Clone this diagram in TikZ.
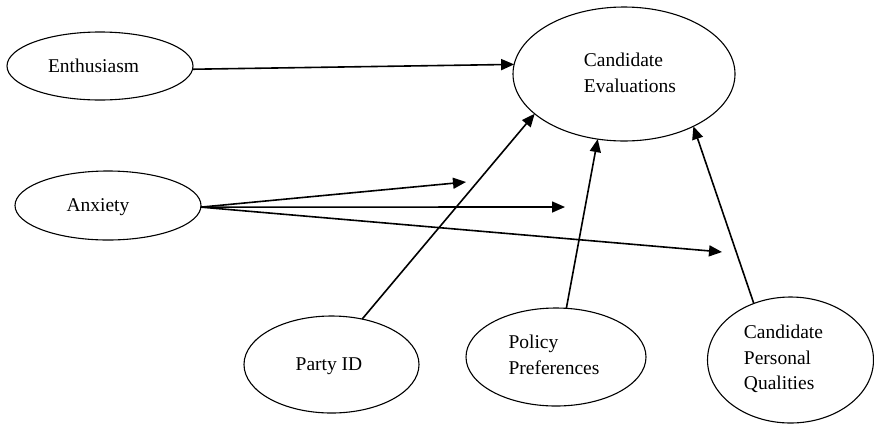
\documentclass[tikz,border=0pt]{standalone}
\usepackage{fontspec}
\setmainfont{Liberation Serif}
\usetikzlibrary{shapes.geometric,arrows.meta}
\begin{document}
\begin{tikzpicture}[x=1pt,y=-1pt,
  oval/.style={draw, ellipse, line width=1.1pt, inner sep=0pt, outer sep=0pt},
  lbl/.style={inner sep=0pt, align=left, font=\fontsize{19.5}{25.5}\selectfont},
  arr/.style={line width=1.6pt, -{Triangle[length=13pt,width=11pt]}},
  ln/.style={line width=1.6pt}]
\useasboundingbox (0,0) rectangle (874,424);
% ellipses
\node[oval, minimum width=186pt, minimum height=68pt] (enth) at (100,66) {};
\node[oval, minimum width=186pt, minimum height=69pt] (anx) at (108,205.5) {};
\node[oval, minimum width=222pt, minimum height=134pt] (ce) at (624,74) {};
\node[oval, minimum width=175pt, minimum height=97pt] (pid) at (331.5,364.5) {};
\node[oval, minimum width=180pt, minimum height=98pt] (pol) at (556,357) {};
\node[oval, minimum width=166pt, minimum height=126pt] (cpq) at (790.5,360) {};
% texts
\node[lbl] (enthT) at (93.5,66) {Enthusiasm};
\node[lbl] (anxT) at (98,207) {Anxiety};
\node[lbl] (ceT) at (630,73) {Candidate\\Evaluations};
\node[lbl] (pidT) at (329,366) {Party ID};
\node[lbl] (polT) at (554,355) {Policy\\Preferences};
\node[lbl] (cpqT) at (783.5,359) {Candidate\\Personal\\Qualities};
% free ends
\coordinate (a1) at (466,182);
\coordinate (a2) at (565,207);
\coordinate (a3) at (722,252);
% connectors
\draw[arr] (enth.-2) -- (ce.175.4);
\draw[arr] (anx.-1) -- (a1);
\draw[arr] (anx.-1) -- (a2);
\draw[arr] (anx.-1) -- (a3);
\draw[arr] (pid.56.4) -- (ce.204.4);
\draw[arr] (pol.78.5) -- (ce.248);
\draw[arr] (cpq.123.7) -- (ce.323);
\end{tikzpicture}
\end{document}
